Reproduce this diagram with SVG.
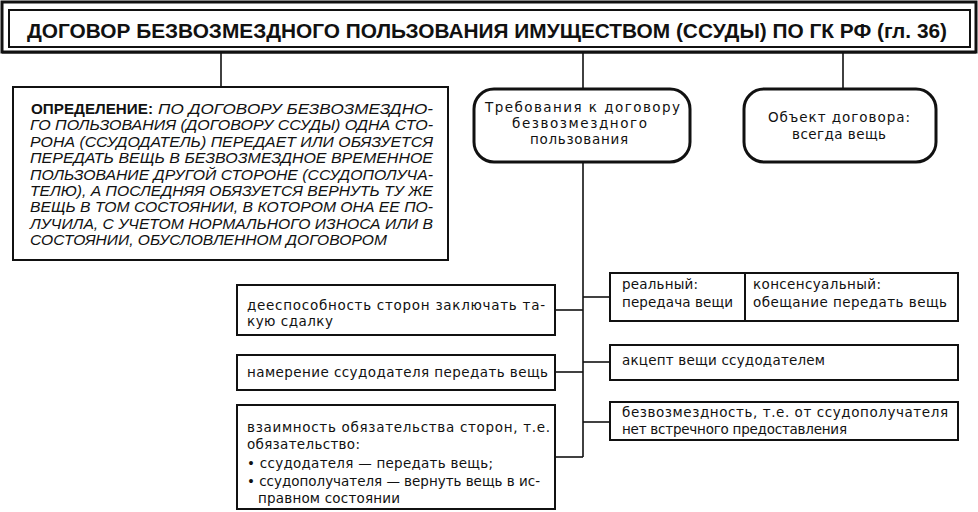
<svg xmlns="http://www.w3.org/2000/svg" width="978" height="512" viewBox="0 0 978 512">
<style>
.box{fill:#fff;stroke:#111;stroke-width:2}
.rbox{fill:#fff;stroke:#111;stroke-width:3}
.ln{stroke:#111;stroke-width:1.6;fill:none}
.t{font-family:"DejaVu Sans","Liberation Sans",Arial,sans-serif;font-size:13.5px;fill:#111}
.d{font-family:"Liberation Sans",Arial,sans-serif;font-size:14.5px;font-style:italic;fill:#111}
.db{font-family:"Liberation Sans",Arial,sans-serif;font-size:14.5px;font-weight:bold;fill:#111}
.title{font-family:"Liberation Sans",Arial,sans-serif;font-size:21px;font-weight:bold;fill:#111}
</style>
<rect width="978" height="512" fill="#fff"/>
<g id="connectors">
<line class="ln" x1="221" y1="53" x2="221" y2="87"/>
<line class="ln" x1="583" y1="53" x2="583" y2="89"/>
<line class="ln" x1="843" y1="53" x2="843" y2="89"/>
<line class="ln" x1="583" y1="163" x2="583" y2="457"/>
<line class="ln" x1="555" y1="310" x2="583" y2="310"/>
<line class="ln" x1="555" y1="372" x2="583" y2="372"/>
<line class="ln" x1="555" y1="457" x2="583" y2="457"/>
<line class="ln" x1="583" y1="297" x2="610" y2="297"/>
<line class="ln" x1="583" y1="362" x2="610" y2="362"/>
<line class="ln" x1="583" y1="422" x2="610" y2="422"/>
</g>
<g id="title">
<rect x="2" y="2" width="974" height="50" fill="#fff" stroke="#111" stroke-width="3"/>
<line x1="2" y1="52.5" x2="976" y2="52.5" stroke="#111" stroke-width="2"/>
<rect x="9" y="10" width="961" height="37" fill="none" stroke="#111" stroke-width="2"/>
<text class="title" x="27" y="37.5" textLength="920" lengthAdjust="spacingAndGlyphs">ДОГОВОР БЕЗВОЗМЕЗДНОГО ПОЛЬЗОВАНИЯ ИМУЩЕСТВОМ (ССУДЫ) ПО ГК РФ (гл. 36)</text>
</g>
<g id="definition">
<rect class="box" x="13" y="87" width="435" height="173"/>
<text class="db" x="31" y="114" textLength="122" lengthAdjust="spacingAndGlyphs">ОПРЕДЕЛЕНИЕ:</text>
<text class="d" x="158" y="114" textLength="275" lengthAdjust="spacingAndGlyphs">ПО ДОГОВОРУ БЕЗВОЗМЕЗДНО-</text>
<text class="d" x="30" y="130.4" textLength="403" lengthAdjust="spacingAndGlyphs">ГО ПОЛЬЗОВАНИЯ (ДОГОВОРУ ССУДЫ) ОДНА СТО-</text>
<text class="d" x="30" y="146.8" textLength="403" lengthAdjust="spacingAndGlyphs">РОНА (ССУДОДАТЕЛЬ) ПЕРЕДАЕТ ИЛИ ОБЯЗУЕТСЯ</text>
<text class="d" x="30" y="163.1" textLength="403" lengthAdjust="spacingAndGlyphs">ПЕРЕДАТЬ ВЕЩЬ В БЕЗВОЗМЕЗДНОЕ ВРЕМЕННОЕ</text>
<text class="d" x="30" y="179.5" textLength="403" lengthAdjust="spacingAndGlyphs">ПОЛЬЗОВАНИЕ ДРУГОЙ СТОРОНЕ (ССУДОПОЛУЧА-</text>
<text class="d" x="30" y="195.9" textLength="403" lengthAdjust="spacingAndGlyphs">ТЕЛЮ), А ПОСЛЕДНЯЯ ОБЯЗУЕТСЯ ВЕРНУТЬ ТУ ЖЕ</text>
<text class="d" x="30" y="212.3" textLength="403" lengthAdjust="spacingAndGlyphs">ВЕЩЬ В ТОМ СОСТОЯНИИ, В КОТОРОМ ОНА ЕЕ ПО-</text>
<text class="d" x="30" y="228.6" textLength="403" lengthAdjust="spacingAndGlyphs">ЛУЧИЛА, С УЧЕТОМ НОРМАЛЬНОГО ИЗНОСА ИЛИ В</text>
<text class="d" x="30" y="245" textLength="357" lengthAdjust="spacingAndGlyphs">СОСТОЯНИИ, ОБУСЛОВЛЕННОМ ДОГОВОРОМ</text>
</g>
<g id="requirements">
<rect class="rbox" x="474" y="89" width="216" height="73" rx="20"/>
<text class="t" x="485" y="112" textLength="195">Требования к договору</text>
<text class="t" x="512" y="128" textLength="135">безвозмездного</text>
<text class="t" x="530" y="144" textLength="98">пользования</text>
</g>
<g id="object">
<rect class="rbox" x="744" y="89" width="192" height="73" rx="20"/>
<text class="t" x="768" y="122" textLength="142">Объект договора:</text>
<text class="t" x="792" y="139" textLength="94">всегда вещь</text>
</g>
<g id="capacity">
<rect class="box" x="237" y="285" width="318" height="50"/>
<text class="t" x="247" y="310" textLength="298">дееспособность сторон заключать та-</text>
<text class="t" x="247" y="326" textLength="86">кую сдалку</text>
</g>
<g id="intent">
<rect class="box" x="237" y="355" width="318" height="35"/>
<text class="t" x="247" y="377" textLength="301">намерение ссудодателя передать вещь</text>
</g>
<g id="mutuality">
<rect class="box" x="237" y="405" width="318" height="104"/>
<text class="t" x="247" y="432" textLength="303">взаимность обязательства сторон, т.е.</text>
<text class="t" x="247" y="449" textLength="113">обязательство:</text>
<text class="t" x="247" y="468" textLength="246">• ссудодателя — передать вещь;</text>
<text class="t" x="247" y="486" textLength="293">• ссудополучателя — вернуть вещь в ис-</text>
<text class="t" x="258" y="503" textLength="142">правном состоянии</text>
</g>
<g id="transfer">
<rect class="box" x="610" y="273" width="348" height="48"/>
<line x1="745" y1="273" x2="745" y2="321" stroke="#111" stroke-width="2"/>
<text class="t" x="622" y="289" textLength="76">реальный:</text>
<text class="t" x="622" y="307" textLength="111">передача вещи</text>
<text class="t" x="753" y="289" textLength="128">консенсуальный:</text>
<text class="t" x="753" y="307" textLength="194">обещание передать вещь</text>
</g>
<g id="acceptance">
<rect class="box" x="610" y="345" width="348" height="35"/>
<text class="t" x="622" y="365" textLength="203">акцепт вещи ссудодателем</text>
</g>
<g id="gratuitous">
<rect class="box" x="610" y="402" width="348" height="38"/>
<text class="t" x="622" y="417" textLength="326">безвозмездность, т.е. от ссудополучателя</text>
<text class="t" x="622" y="434" textLength="225">нет встречного предоставления</text>
</g>
</svg>
